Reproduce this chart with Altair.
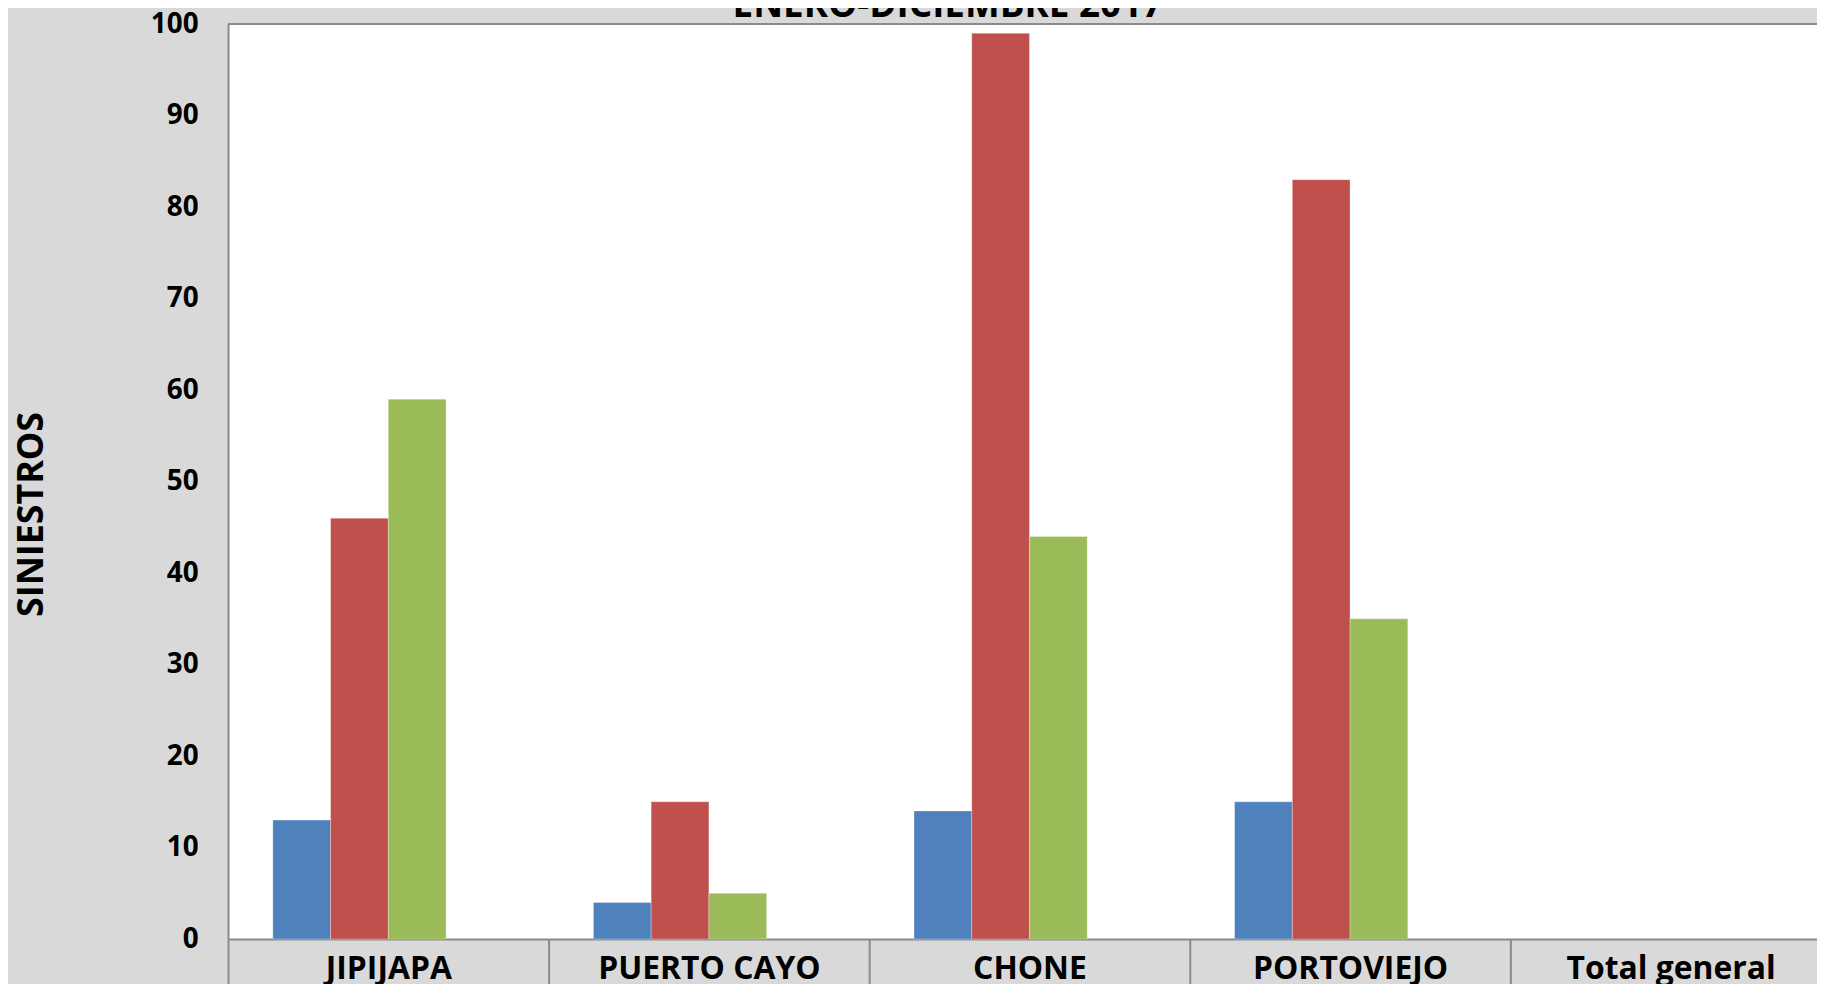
import altair as alt
import pandas as pd

categories = ["JIPIJAPA", "PUERTO CAYO", "CHONE", "PORTOVIEJO", "Total general"]
series = ["Serie 1", "Serie 2", "Serie 3", "Serie 4"]
serie1 = [13, 4, 14, 15, None]
serie2 = [46, 15, 99, 83, None]
serie3 = [59, 5, 44, 35, None]
serie4 = [None, None, None, None, None]
colors = ["#4F81BD", "#C0504D", "#9BBB59", "#8064A2"]
y_ticks = [0, 10, 20, 30, 40, 50, 60, 70, 80, 90, 100]
title_text = "ENERO-DICIEMBRE 2017"
y_title = "SINIESTROS"

rows = []
for s, vals in zip(series, [serie1, serie2, serie3, serie4]):
    for c, v in zip(categories, vals):
        if v is not None:
            rows.append({"categoria": c, "serie": s, "siniestros": v})
df = pd.DataFrame(rows)

W = 1610
H = 919
FONT = "Open Sans"
GRAY = "#8a8a8a"

bars = alt.Chart(df).mark_bar(stroke="white", strokeOpacity=0.3, strokeWidth=1).encode(
    x=alt.X(
        "categoria:N",
        sort=categories,
        scale=alt.Scale(domain=categories, paddingInner=0, paddingOuter=0),
        axis=alt.Axis(
            title=None,
            labelAngle=0,
            labelFont=FONT,
            labelFontWeight="bold",
            labelFontSize=32,
            labelColor="black",
            labelBaseline="alphabetic",
            labelPadding=-10,
            labelLimit=0,
            labelOverlap=False,
            tickBand="extent",
            tickSize=50,
            tickColor=GRAY,
            tickWidth=2,
            domainColor=GRAY,
            domainWidth=2,
        ),
    ),
    xOffset=alt.XOffset("serie:N", scale=alt.Scale(domain=series, paddingInner=0, paddingOuter=0.776)),
    y=alt.Y(
        "siniestros:Q",
        scale=alt.Scale(domain=[0, 100], nice=False),
        axis=alt.Axis(
            values=y_ticks,
            title=y_title,
            ticks=False,
            grid=False,
            domainColor=GRAY,
            domainWidth=2,
            labelFont=FONT,
            labelFontWeight="bold",
            labelFontSize=28,
            labelColor="black",
            labelPadding=30,
            titleFont=FONT,
            titleFontWeight="bold",
            titleFontSize=36,
            titleColor="black",
            titleAngle=270,
            titleAlign="center",
            titleBaseline="middle",
            titleX=-197,
            titleY=492,
        ),
    ),
    color=alt.Color("serie:N", scale=alt.Scale(domain=series, range=colors), legend=None),
)

border = alt.Chart(pd.DataFrame({"k": [0]})).mark_rule(color=GRAY, strokeWidth=2).encode(
    x=alt.value(0), x2=alt.value(W), y=alt.value(0)
)

title = alt.Chart(pd.DataFrame({"t": [title_text]})).mark_text(
    font=FONT, fontSize=37, fontWeight="bold", color="black", align="center", baseline="alphabetic"
).encode(
    x=alt.value(723), y=alt.value(-7), text="t:N"
)

chart = alt.layer(bars, border, title).properties(
    width=W,
    height=H,
    background="#d9d9d9",
    padding={"left": 221, "top": 14, "right": -14, "bottom": 43},
    autosize=alt.AutoSizeParams(type="none"),
).configure_view(fill="white", stroke=None)

chart.save("out.html", embed_options={"renderer": "svg", "actions": False})
